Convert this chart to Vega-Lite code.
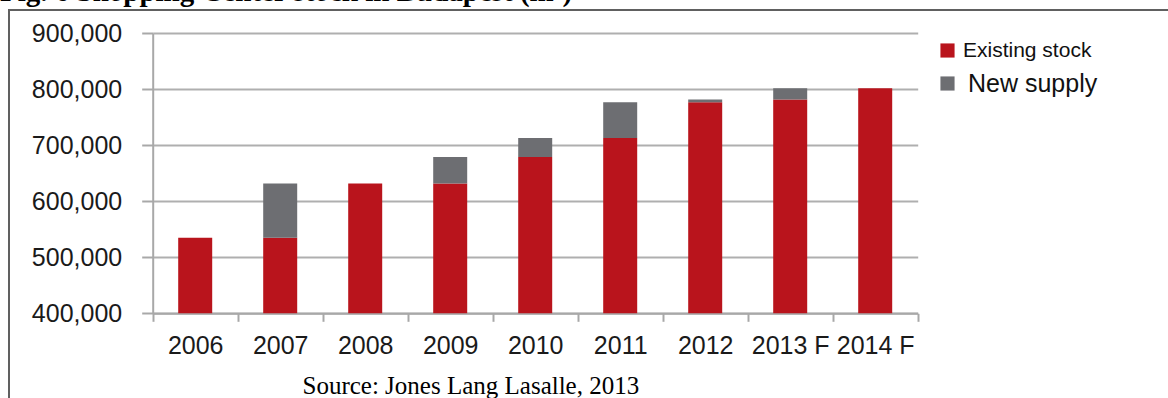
{
  "$schema": "https://vega.github.io/schema/vega-lite/v6.json",
  "autosize": {"type": "none"},
  "width": 1161,
  "height": 390,
  "padding": {"left": 9, "top": 10, "right": 0, "bottom": 0},
  "background": "white",
  "title": {
    "text": "Fig. 6 Shopping Center stock in Budapest (m²)",
    "anchor": "start",
    "frame": "group",
    "font": "Liberation Serif",
    "fontSize": 29,
    "fontWeight": "bold",
    "color": "#000000",
    "baseline": "alphabetic",
    "offset": -20,
    "dx": -9
  },
  "data": {
    "values": [
      {"year": "2006", "series": "Existing stock", "rank": 1, "m2": 535000},
      {"year": "2007", "series": "Existing stock", "rank": 1, "m2": 535000},
      {"year": "2007", "series": "New supply", "rank": 2, "m2": 97000},
      {"year": "2008", "series": "Existing stock", "rank": 1, "m2": 632000},
      {"year": "2009", "series": "Existing stock", "rank": 1, "m2": 632000},
      {"year": "2009", "series": "New supply", "rank": 2, "m2": 47000},
      {"year": "2010", "series": "Existing stock", "rank": 1, "m2": 679000},
      {"year": "2010", "series": "New supply", "rank": 2, "m2": 34000},
      {"year": "2011", "series": "Existing stock", "rank": 1, "m2": 713000},
      {"year": "2011", "series": "New supply", "rank": 2, "m2": 64000},
      {"year": "2012", "series": "Existing stock", "rank": 1, "m2": 777000},
      {"year": "2012", "series": "New supply", "rank": 2, "m2": 5000},
      {"year": "2013 F", "series": "Existing stock", "rank": 1, "m2": 782000},
      {"year": "2013 F", "series": "New supply", "rank": 2, "m2": 20000},
      {"year": "2014 F", "series": "Existing stock", "rank": 1, "m2": 802000}
    ]
  },
  "mark": {"type": "bar", "width": {"band": 0.4}},
  "encoding": {
    "x": {
      "field": "year",
      "type": "nominal",
      "sort": null,
      "scale": {"range": [143.7, 908.7], "paddingInner": 0, "paddingOuter": 0},
      "axis": {
        "title": "Source: Jones Lang Lasalle, 2013",
        "titleFont": "Liberation Serif",
        "titleFontSize": 25,
        "titleFontWeight": "normal",
        "titleColor": "#000000",
        "titleX": 293,
        "titleY": 80,
        "titleAlign": "left",
        "titleBaseline": "alphabetic",
        "labelAngle": 0,
        "labelFont": "Liberation Sans",
        "labelFontSize": 25,
        "labelColor": "#1a1a1a",
        "labelPadding": 12,
        "tickBand": "extent",
        "tickSize": 8,
        "tickColor": "#a8a8a8",
        "tickWidth": 2,
        "domainColor": "#a8a8a8",
        "domainWidth": 2,
        "offset": -86.7,
        "grid": false
      }
    },
    "y": {
      "field": "m2",
      "type": "quantitative",
      "stack": "zero",
      "scale": {"domain": [400000, 900000], "range": [303.3, 23.3], "clamp": true, "nice": false, "zero": false},
      "axis": {
        "title": null,
        "values": [400000, 500000, 600000, 700000, 800000, 900000],
        "format": ",d",
        "offset": -143.7,
        "labelFont": "Liberation Sans",
        "labelFontSize": 25,
        "labelColor": "#1a1a1a",
        "labelPadding": 20,
        "tickSize": 11,
        "tickColor": "#a8a8a8",
        "tickWidth": 2,
        "domainColor": "#a8a8a8",
        "domainWidth": 2,
        "grid": true,
        "gridColor": "#afafaf",
        "gridWidth": 2
      }
    },
    "order": {"field": "rank", "type": "quantitative"},
    "color": {
      "field": "series",
      "type": "nominal",
      "scale": {"domain": ["Existing stock", "New supply"], "range": ["#b9141c", "#6d6e72"]},
      "legend": {
        "title": null,
        "orient": "none",
        "legendX": 928,
        "legendY": 30,
        "direction": "vertical",
        "padding": 0,
        "symbolType": "square",
        "symbolSize": 200,
        "symbolStrokeWidth": 0,
        "labelFont": "Liberation Sans",
        "labelFontSize": 21,
        "labelColor": "#111111",
        "labelOffset": 5,
        "rowPadding": 10,
        "encode": {
          "labels": {
            "update": {
              "fontSize": {"signal": "datum.value === 'New supply' ? 25 : 21"},
              "dx": {"signal": "datum.value === 'New supply' ? 5 : 0"}
            }
          }
        }
      }
    }
  },
  "config": {
    "font": "Liberation Sans",
    "view": {"stroke": "#606060", "strokeWidth": 2, "fill": "white"}
  }
}
